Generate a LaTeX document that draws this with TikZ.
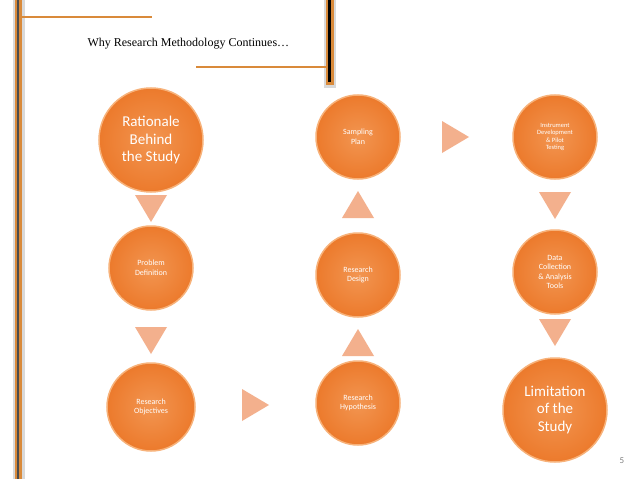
\documentclass[tikz,border=0pt]{standalone}
\usepackage{fontspec}
\setmainfont{Carlito}
\newfontfamily\titlefont{Liberation Serif}
\definecolor{org}{HTML}{EC7A2C}
\definecolor{orgl}{HTML}{F7B27A}
\definecolor{tri}{HTML}{F3B08D}
\definecolor{bar}{HTML}{D98A3A}
\begin{document}
\begin{tikzpicture}[x=1pt,y=-1pt,
  circ/.style={circle,inner sep=0pt,minimum size=#1,draw=orgl,line width=1.5pt,
    inner color=org!85!orange!80!white,outer color=org,text=white,align=center},
  sm/.style={font=\fontsize{8}{9.5}\selectfont},
  bg/.style={font=\fontsize{15}{17.5}\selectfont},
  tr/.style={fill=tri}]
\useasboundingbox (0,0) rectangle (638,479);
\fill[white] (0,0) rectangle (638,479);
% frame bars
\fill[gray!30] (13,0) rectangle (25,479);
\fill[bar] (15,0) rectangle (22,479);
\fill[black!70] (17,0) rectangle (19,479);
\draw[bar,line width=1.5pt] (22,17) -- (152,17);
\fill[gray!30] (324,0) rectangle (336,88);
\fill[bar] (326,0) rectangle (334,85);
\fill[black] (328,0) rectangle (331,82);
\draw[bar,line width=1.5pt] (196,67) -- (326,67);
\node[anchor=west,font=\titlefont\fontsize{12}{14}\selectfont] (title) at (84,44) {Why Research Methodology Continues\ldots};
% circles
\node[circ=104pt,bg] (a) at (151,140) {Rationale\\Behind\\the Study};
\node[circ=84pt,sm] (b) at (151,268) {Problem\\Definition};
\node[circ=88pt,sm] (c) at (151,407) {Research\\Objectives};
\node[circ=84pt,sm] (d) at (358,403) {Research\\Hypothesis};
\node[circ=84pt,sm] (e) at (358,275) {Research\\Design};
\node[circ=84pt,sm] (f) at (358,137) {Sampling\\Plan};
\node[circ=84pt,font=\fontsize{6.5}{7.5}\selectfont] (g) at (555,137) {Instrument\\Development\\\& Pilot\\Testing};
\node[circ=84pt,sm] (h) at (555,272) {Data\\Collection\\\& Analysis\\Tools};
\node[circ=104pt,bg] (i) at (555,410) {Limitation\\of the\\Study};
% triangles
\foreach \x/\y in {151/208,151/340,555/205,555/332}
  \fill[tri] (\x-16,\y-13) -- (\x+16,\y-13) -- (\x,\y+14) -- cycle;
\foreach \x/\y in {358/205,358/343}
  \fill[tri] (\x-16,\y+13) -- (\x+16,\y+13) -- (\x,\y-14) -- cycle;
\foreach \x/\y in {255/405,455/137}
  \fill[tri] (\x-13,\y-16) -- (\x-13,\y+16) -- (\x+14,\y) -- cycle;
\node[text=gray,font=\fontsize{9}{10}\selectfont] (pn) at (622,461) {5};
\end{tikzpicture}
\end{document}
